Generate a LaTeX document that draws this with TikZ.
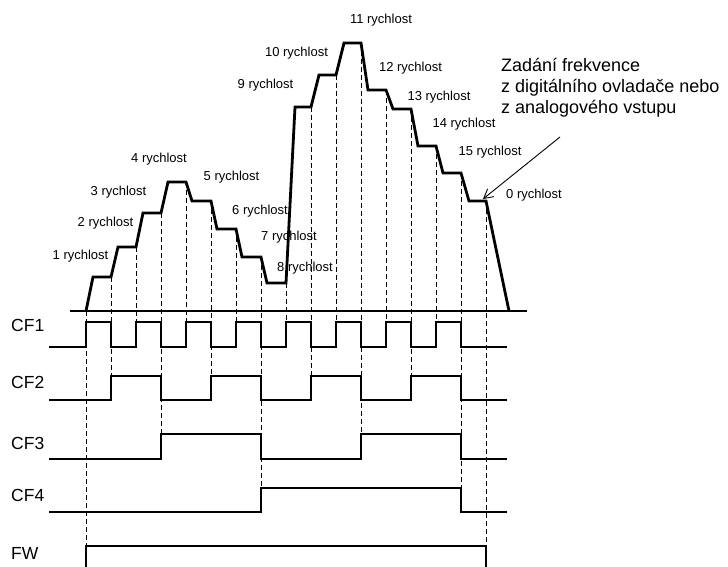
\documentclass[tikz,border=0pt]{standalone}
\usepackage{fontspec}
\setmainfont{Liberation Sans}
\usetikzlibrary{arrows.meta}
\begin{document}
\begin{tikzpicture}[x=1pt,y=-1pt,
  curve/.style={line width=2.8pt,line join=miter},
  sig/.style={line width=2.4pt,line join=miter},
  axisline/.style={line width=1.8pt},
  guide/.style={line width=0.9pt,dash pattern=on 5pt off 3pt},
  spd/.style={anchor=base,inner sep=0pt,font=\fontsize{13}{15}\selectfont},
  sname/.style={anchor=base west,inner sep=0pt,font=\fontsize{17.5}{20}\selectfont},
  note/.style={anchor=base west,inner sep=0pt,font=\fontsize{18}{21}\selectfont}]
\useasboundingbox (0,0) rectangle (728,567);

% speed axis
\draw[axisline] (70,311) -- (527,311);

% guide lines from each speed step down to the control signals
\draw[guide] (86,311) -- (86,546);
\draw[guide] (111,277) -- (111,376);
\draw[guide] (136,247) -- (136,322);
\draw[guide] (161,213) -- (161,434);
\draw[guide] (186,182) -- (186,322);
\draw[guide] (211,201) -- (211,376);
\draw[guide] (236,229) -- (236,322);
\draw[guide] (261,257) -- (261,488);
\draw[guide] (286,283) -- (286,322);
\draw[guide] (311,107) -- (311,376);
\draw[guide] (336,75) -- (336,322);
\draw[guide] (361,43) -- (361,434);
\draw[guide] (386,90) -- (386,322);
\draw[guide] (411,109) -- (411,376);
\draw[guide] (436,146) -- (436,322);
\draw[guide] (461,173) -- (461,488);
\draw[guide] (486,201) -- (486,546);

% output frequency profile
\draw[curve] (86,311) -- (93,277) -- (111,277) -- (118,247) -- (136,247)
  -- (143,213) -- (161,213) -- (168,182) -- (186,182) -- (192,201)
  -- (211,201) -- (217,229) -- (236,229) -- (242,257) -- (261,257)
  -- (267,283) -- (286,283) -- (295,107) -- (311,107) -- (319,75)
  -- (336,75) -- (344,43) -- (361,43) -- (368,90) -- (386,90)
  -- (393,109) -- (411,109) -- (418,146) -- (436,146) -- (443,173)
  -- (461,173) -- (469,201) -- (486,201) -- (509,311);

% control inputs
\draw[sig] (49,347) -- (86,347) |- (111,322) |- (136,347) |- (161,322)
  |- (186,347) |- (211,322) |- (236,347) |- (261,322) |- (286,347)
  |- (311,322) |- (336,347) |- (361,322) |- (386,347) |- (411,322)
  |- (436,347) |- (461,322) |- (507,347);
\draw[sig] (49,400) -- (111,400) |- (161,376) |- (211,400) |- (261,376)
  |- (311,400) |- (361,376) |- (411,400) |- (461,376) |- (507,400);
\draw[sig] (49,459) -- (161,459) |- (261,434) |- (361,459) |- (461,434)
  |- (507,459);
\draw[sig] (49,512) -- (261,512) |- (461,488) |- (507,512);
\draw[sig] (86,567) -- (86,546) -- (486,546) -- (486,567);

% signal names
\node[sname] (cf1) at (11,331) {CF1};
\node[sname] (cf2) at (11,388) {CF2};
\node[sname] (cf3) at (11,449) {CF3};
\node[sname] (cf4) at (11,501) {CF4};
\node[sname] (fw) at (11,559) {FW};

% speed labels
\node[spd] (s1) at (80.5,259) {1 rychlost};
\node[spd] (s2) at (105.5,226) {2 rychlost};
\node[spd] (s3) at (118.5,195) {3 rychlost};
\node[spd] (s4) at (159,162) {4 rychlost};
\node[spd] (s5) at (231.5,180) {5 rychlost};
\node[spd] (s6) at (260,214) {6 rychlost};
\node[spd] (s7) at (289,240) {7 rychlost};
\node[spd] (s8) at (305,271) {8 rychlost};
\node[spd] (s9) at (265.5,89) {9 rychlost};
\node[spd] (s10) at (296.5,57) {10 rychlost};
\node[spd] (s11) at (381,24) {11 rychlost};
\node[spd] (s12) at (410.5,72) {12 rychlost};
\node[spd] (s13) at (439,101) {13 rychlost};
\node[spd] (s14) at (464,128) {14 rychlost};
\node[spd] (s15) at (490,155) {15 rychlost};
\node[spd] (s0) at (534,198) {0 rychlost};

% frequency source note
\node[note] (n1) at (501,72) {Zadání frekvence};
\node[note] (n2) at (501,93) {z digitálního ovladače nebo};
\node[note] (n3) at (501,114) {z analogového vstupu};
\coordinate (tail) at (560,137);
\coordinate (tip) at (483,199);
\draw[line width=0.9pt,-{Straight Barb[length=9pt,width=10pt]}] (tail) -- (tip);
\end{tikzpicture}
\end{document}
